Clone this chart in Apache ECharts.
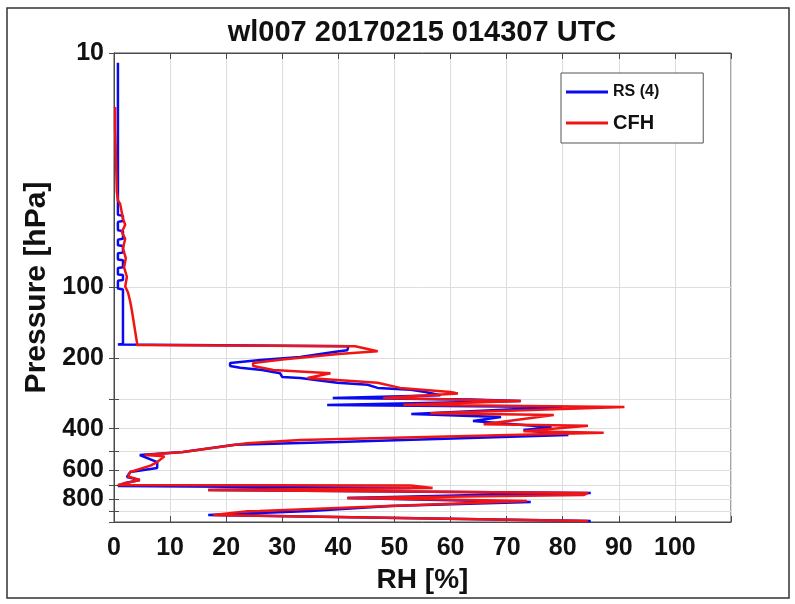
<!DOCTYPE html>
<html>
<head>
<meta charset="utf-8">
<script src="https://cdn.jsdelivr.net/npm/echarts@6/dist/echarts.min.js"></script>
<style>
  html, body { margin: 0; padding: 0; background: #fff; }
  #chart { width: 795px; height: 604px; }
</style>
</head>
<body>
<div id="chart"></div>
<script>
// RS (4) radiosonde profile: RH [%] and pressure [hPa], top down
var rhRS = [0.7, 0.7, 1.6, 1.6, 0.7, 0.7, 1.6, 1.6, 0.7, 0.7, 1.6, 1.6, 0.7, 0.7, 1.6, 1.6, 0.7, 0.7, 1.6, 1.6, 0.7, 0.7, 1.6, 1.6, 0.7, 0.7,
    41.8, 41.6, 39.5, 33.2, 26.1, 20.7, 20.7, 22.5, 26.4, 29.6, 30, 33.2, 39.8, 45.2, 47, 52.9, 55.5, 58.2, 39, 63.6, 72.5, 38, 80,
    53, 69, 64, 78, 73, 81, 40, 21.5, 12.3, 4.6, 7.7, 7.7, 2.9, 2.3, 4.6, 2, 0.7,
    52.9, 16.8, 85, 64.8, 41.6, 74.3, 49.3, 35, 16.8, 85];
var pRS = [11, 49, 49.5, 52, 52.5, 57, 57.5, 62, 62.5, 66, 66.5, 71, 71.5, 76, 76.5, 82, 82.5, 88, 88.5, 93, 93.5, 101, 102, 174, 175, 177,
    178, 185, 188, 198, 204, 210, 216, 220, 225, 232, 241, 243, 255, 260, 268, 273, 279, 288, 296, 300, 305, 317, 323,
    346, 357, 371, 394, 405, 426, 456, 468, 503, 518, 555, 589, 612, 643, 662, 682, 702,
    716, 730, 752, 767, 790, 822, 855, 898, 933, 990];

// CFH frost point hygrometer profile
var rhCFH = [0.2, 0.2, 0.4, 0.5, 0.7, 1.1, 1.4, 1.6, 2, 1.4, 2, 1.6, 2.1, 1.8, 2.3, 2, 2.5, 2.9, 3.2,
    4.1, 4.1, 43, 47, 40, 30, 24.8, 24.8, 28.4, 38.6, 34.5, 47, 51, 60, 61.3, 48, 72.5, 51.6, 91,
    56.4, 78.4, 65.9, 84.5, 73, 87.3, 33.2, 23.7, 12.3, 5.5, 9, 7.7, 6.5, 2.9, 2.5, 4.6, 0.7,
    52.9, 56.8, 16.8, 84.5, 83.8, 41.6, 73.6, 49, 26, 23.8, 17.7, 84.5];
var pCFH = [17, 21, 31, 39, 42.5, 44, 48, 51, 54, 58, 62, 68, 75, 82, 90, 99, 105, 115, 126,
    172, 176, 178, 187, 192, 203, 210, 216, 225, 232, 243, 255, 268, 279, 283, 296, 305, 316, 323,
    344, 350, 383, 389, 410, 416, 447, 462, 503, 518, 525, 555, 575, 612, 640, 662, 695,
    698, 716, 730, 752, 767, 790, 814, 855, 898, 900, 933, 990];

var pTicks = [10, 100, 200, 300, 400, 500, 600, 700, 800, 900, 1000];
var pLabels = [10, 100, 200, 400, 600, 800];

function pairs(xs, ys) {
    var out = [];
    for (var i = 0; i < xs.length; i++) {
        out.push([xs[i], ys[i]]);
    }
    return out;
}

var myChart = echarts.init(document.getElementById('chart'));
var font = 'Liberation Sans, Arial, sans-serif';
var axisColor = '#4a4a4a';

option = {
    backgroundColor: '#fff',
    animation: false,
    graphic: [{
        type: 'rect',
        shape: { x: 7, y: 8, width: 782, height: 590 },
        style: { fill: 'none', stroke: '#333', lineWidth: 1.5 },
        z: -1
    }, {
        // title, centred over the plot area
        type: 'text',
        x: 422,
        y: 33,
        style: {
            text: 'wl007 20170215 014307 UTC',
            font: 'bold 29px Liberation Sans, Arial, sans-serif',
            fill: '#111',
            textAlign: 'center',
            textVerticalAlign: 'middle'
        }
    }],
    legend: {
        left: 561,
        top: 73,
        orient: 'vertical',
        icon: 'rect',
        itemWidth: 42,
        itemHeight: 3,
        itemGap: 13,
        itemTextGap: 8,
        padding: [11, 44, 10, 5],
        borderColor: '#555',
        borderWidth: 1,
        backgroundColor: '#fff',
        textStyle: { fontFamily: font, fontWeight: 'bold', color: '#111' },
        data: [
            { name: 'RS (4)', textStyle: { fontSize: 16 } },
            { name: 'CFH', textStyle: { fontSize: 20 } }
        ]
    },
    grid: {
        left: 114,
        right: 64,
        top: 53,
        bottom: 82,
        show: true,
        borderColor: axisColor,
        borderWidth: 1
    },
    xAxis: [{
        type: 'value',
        min: 0,
        max: 110,
        interval: 10,
        name: 'RH [%]',
        nameLocation: 'middle',
        nameGap: 43,
        nameTextStyle: { fontFamily: font, fontWeight: 'bold', fontSize: 28, color: '#111' },
        axisLine: { show: true, lineStyle: { color: axisColor } },
        axisTick: { inside: true, length: 6, lineStyle: { color: axisColor } },
        axisLabel: {
            margin: 14,
            fontFamily: font, fontWeight: 'bold', fontSize: 25, color: '#111',
            formatter: function (v) { return v > 100 ? '' : v; }
        },
        splitLine: { show: true, lineStyle: { color: '#dedede' } }
    }, {
        type: 'value',
        position: 'top',
        min: 0,
        max: 110,
        interval: 10,
        axisLine: { show: true, lineStyle: { color: axisColor } },
        axisTick: { inside: true, length: 6, lineStyle: { color: axisColor } },
        axisLabel: { show: false },
        splitLine: { show: false }
    }],
    yAxis: [{
        type: 'log',
        logBase: 10,
        min: 10,
        max: 1000,
        inverse: true,
        name: 'Pressure [hPa]',
        nameLocation: 'middle',
        nameGap: 60,
        nameTextStyle: { fontFamily: font, fontWeight: 'bold', fontSize: 30, color: '#111' },
        axisLine: { show: true, lineStyle: { color: axisColor } },
        axisTick: { inside: true, length: 5, customValues: pTicks, lineStyle: { color: axisColor } },
        axisLabel: {
            margin: 10,
            customValues: pLabels,
            fontFamily: font, fontWeight: 'bold', fontSize: 25, color: '#111'
        },
        splitLine: { show: true, lineStyle: { color: '#dedede' } }
    }, {
        type: 'log',
        logBase: 10,
        min: 10,
        max: 1000,
        inverse: true,
        position: 'right',
        axisLine: { show: true, lineStyle: { color: axisColor } },
        axisTick: { inside: true, length: 5, customValues: pTicks, lineStyle: { color: axisColor } },
        axisLabel: { show: false },
        splitLine: { show: false }
    }],
    series: [{
        name: 'RS (4)',
        type: 'line',
        xAxisIndex: 0,
        yAxisIndex: 0,
        symbol: 'none',
        data: pairs(rhRS, pRS),
        lineStyle: { color: '#0a0af0', width: 2.5 },
        itemStyle: { color: '#0a0af0' }
    }, {
        name: 'CFH',
        type: 'line',
        xAxisIndex: 0,
        yAxisIndex: 0,
        symbol: 'none',
        data: pairs(rhCFH, pCFH),
        lineStyle: { color: '#f01414', width: 2.5 },
        itemStyle: { color: '#f01414' }
    }]
};

myChart.setOption(option);
</script>
</body>
</html>
